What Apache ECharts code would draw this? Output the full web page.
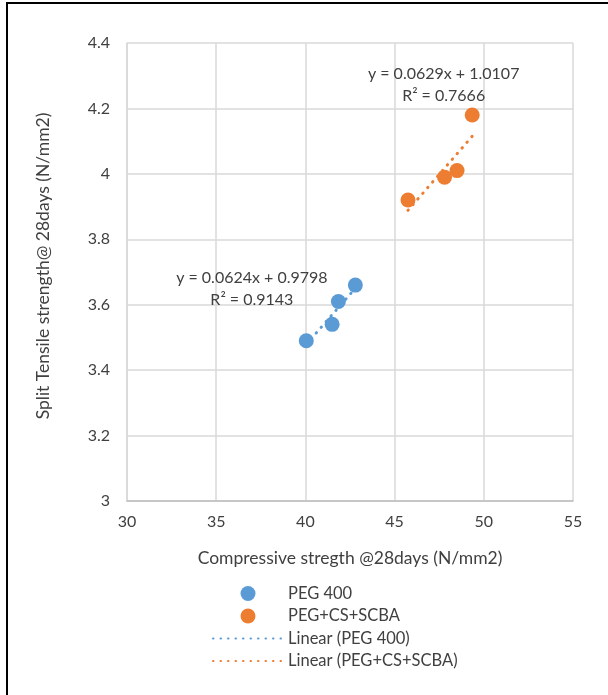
<!DOCTYPE html>
<html>
<head>
<meta charset="utf-8">
<script src="https://cdn.jsdelivr.net/npm/echarts@6/dist/echarts.min.js"></script>
<style>
html,body{margin:0;padding:0;background:#fff;overflow:hidden;}
#frame{position:absolute;left:6px;top:2px;width:640px;height:740px;border:2px solid #000;}
#main{position:absolute;left:0;top:0;width:608px;height:695px;}
</style>
</head>
<body>
<div id="frame"></div>
<div id="main"></div>
<script>
// 数据
var pegX = [40.05, 41.5, 41.85, 42.8];
var pegY = [3.49, 3.54, 3.61, 3.66];
var mixX = [45.75, 47.8, 48.5, 49.35];
var mixY = [3.92, 3.99, 4.01, 4.18];
// 趋势线系数 (图上公式)
var pegFit = [0.0624, 0.9798, 0.9143];
var mixFit = [0.0629, 1.0107, 0.7666];
var names = ['PEG 400', 'PEG+CS+SCBA', 'Linear (PEG 400)', 'Linear (PEG+CS+SCBA)'];
var xTicks = [30, 55, 5];
var yTicks = [3, 4.4, 0.2];

var BLUE = '#5B9BD5', ORANGE = '#ED7D31', TXT = '#404040';
var FONT = 'Lato';

function pairs(xs, ys) {
	var r = [];
	for (var i = 0; i < xs.length; i++) r.push([xs[i], ys[i]]);
	return r;
}
function fitLine(xs, fit) {
	var lo = Math.min.apply(null, xs), hi = Math.max.apply(null, xs);
	return [[lo, fit[0] * lo + fit[1]], [hi, fit[0] * hi + fit[1]]];
}
function eqText(fit) {
	return 'y = ' + fit[0].toFixed(4) + 'x + ' + fit[1].toFixed(4) + '\nR² = ' + fit[2].toFixed(4);
}
function trend(name, xs, fit, color, labelPos) {
	return {
		name: name,
		type: 'line',
		data: fitLine(xs, fit),
		symbol: 'none',
		z: 1,
		lineStyle: { color: color, width: 3, type: [0.5, 7], cap: 'round' },
		itemStyle: { color: color },
		markPoint: {
			symbol: 'circle',
			symbolSize: 1,
			itemStyle: { color: 'rgba(0,0,0,0)' },
			label: {
				show: true, position: 'inside', formatter: eqText(fit),
				color: TXT, fontFamily: FONT, fontSize: 16, lineHeight: 22, align: 'center'
			},
			data: [{ coord: labelPos }]
		}
	};
}

var myChart = echarts.init(document.getElementById('main'), null, { renderer: 'canvas' });
var option = {
	backgroundColor: 'transparent',
	animation: false,
	grid: { left: 127, top: 43, right: 35, bottom: 194 },
	xAxis: {
		type: 'value', min: xTicks[0], max: xTicks[1], interval: xTicks[2],
		name: 'Compressive stregth @28days (N/mm2)',
		nameLocation: 'middle', nameGap: 48,
		nameTextStyle: { color: TXT, fontFamily: FONT, fontSize: 17.5 },
		axisLine: { lineStyle: { color: '#bfbfbf', width: 1.5 } },
		axisTick: { show: false },
		axisLabel: { color: TXT, fontFamily: FONT, fontSize: 16, margin: 13 },
		splitLine: { lineStyle: { color: '#d9d9d9', width: 1.5 } }
	},
	yAxis: {
		type: 'value', min: yTicks[0], max: yTicks[1], interval: yTicks[2],
		name: 'Split Tensile strength@ 28days (N/mm2)',
		nameLocation: 'middle', nameGap: 75,
		nameTextStyle: { color: TXT, fontFamily: FONT, fontSize: 17.5, padding: [0, 0, 0, 12] },
		axisLine: { show: true, lineStyle: { color: '#d9d9d9', width: 1.5 } },
		axisTick: { show: false },
		axisLabel: { color: TXT, fontFamily: FONT, fontSize: 16, margin: 17,
			formatter: function (v) { return +v.toFixed(1) + ''; } },
		splitLine: { lineStyle: { color: '#d9d9d9', width: 1.5 } }
	},
	legend: {
		orient: 'vertical', left: 207, top: 580,
		itemWidth: 70, itemHeight: 15, itemGap: 5.5,
		textStyle: { color: TXT, fontFamily: FONT, fontSize: 16.5, lineHeight: 15 },
		data: [
			{ name: names[0], icon: 'circle' },
			{ name: names[1], icon: 'circle' },
			{ name: names[2], itemStyle: { opacity: 0 } },
			{ name: names[3], itemStyle: { opacity: 0 } }
		]
	},
	series: [
		{ name: names[0], type: 'scatter', data: pairs(pegX, pegY), symbolSize: 15, z: 3,
			itemStyle: { color: BLUE, opacity: 1 } },
		{ name: names[1], type: 'scatter', data: pairs(mixX, mixY), symbolSize: 15, z: 3,
			itemStyle: { color: ORANGE, opacity: 1 } },
		trend(names[2], pegX, pegFit, BLUE, [37.0, 3.648]),
		trend(names[3], mixX, mixFit, ORANGE, [47.75, 4.272])
	]
};
myChart.setOption(option);
</script>
</body>
</html>
